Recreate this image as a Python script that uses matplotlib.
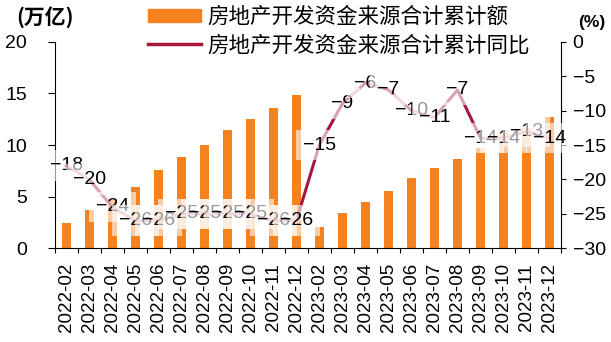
import numpy as np
import matplotlib
matplotlib.use('Agg')
import matplotlib.pyplot as plt
from matplotlib.patches import Patch
from matplotlib.lines import Line2D

plt.rcParams['font.family'] = ['Liberation Sans', 'Noto Sans CJK SC']
plt.rcParams['axes.unicode_minus'] = True

months = ['2022-02', '2022-03', '2022-04', '2022-05', '2022-06', '2022-07',
          '2022-08', '2022-09', '2022-10', '2022-11', '2022-12',
          '2023-02', '2023-03', '2023-04', '2023-05', '2023-06', '2023-07',
          '2023-08', '2023-09', '2023-10', '2023-11', '2023-12']
# 房地产开发资金来源合计累计额（万亿）
funds = [2.48, 3.71, 4.74, 5.97, 7.58, 8.84, 10.03, 11.45, 12.52, 13.60, 14.84,
         2.03, 3.39, 4.45, 5.58, 6.81, 7.77, 8.64, 9.74, 11.45, 11.62, 12.74]
# 累计同比（%）
yoy = [-18, -20, -24, -26, -26, -25, -25, -25, -25, -26, -26,
       -15, -9, -6, -7, -10, -11, -7, -14, -14, -13, -14]

ORANGE = '#F5821F'
RED = '#A5183C'

fig = plt.figure(figsize=(6.11, 3.42), dpi=100)
ax = fig.add_axes([0.0895, 0.274, 0.8287, 0.604])

x = np.arange(len(months))
ax.bar(x, funds, width=0.4, color=ORANGE, zorder=2)
ax.set_xlim(-0.5, len(months) - 0.5)
ax.set_ylim(0, 20)
ax.set_yticks(range(0, 21, 5))
ax.set_xticks(x)
ax.set_xticklabels(months, rotation=90)
ax.set_xticks(np.arange(-0.5, len(months)), minor=True)
ax.tick_params(axis='x', which='major', length=0, pad=10.5, labelsize=13.5)
ax.tick_params(axis='x', which='minor', length=3.6, width=0.8)
ax.tick_params(axis='y', length=5, width=0.8, pad=15, labelsize=14)
for s in ['top', 'right']:
    ax.spines[s].set_visible(False)
for s in ['left', 'bottom']:
    ax.spines[s].set_linewidth(0.8)

ax2 = ax.twinx()
ax2.plot(x, yoy, color=RED, lw=2.2)
ax2.set_ylim(-30, 0)
ax2.set_yticks(range(-30, 1, 5))
ax2.tick_params(axis='y', length=3.3, width=0.8, pad=5, labelsize=14)
for s in ['top', 'left', 'bottom']:
    ax2.spines[s].set_visible(False)
ax2.spines['right'].set_linewidth(0.8)

# 同比数据标签，白色半透明底框
for xi, v in zip(x, yoy):
    ax2.text(xi, v, str(v).replace('-', '\u2212'), ha='center', va='center',
             fontsize=14,
             bbox=dict(boxstyle='square,pad=0.35', fc='white', ec='none', alpha=0.6))

handles = [Patch(color=ORANGE), Line2D([], [], color=RED, lw=2.5)]
labels = ['房地产开发资金来源合计累计额', '房地产开发资金来源合计累计同比']
fig.legend(handles, labels, loc='upper left', bbox_to_anchor=(0.242, 0.982),
           frameon=False, prop={'family': ['Noto Sans CJK SC'], 'size': 15.5},
           handlelength=2.46, handleheight=0.5, handletextpad=0.3,
           labelspacing=0.28, borderpad=0, borderaxespad=0)

fig.text(16 / 611, 1 - 17 / 342, '(万亿)', fontsize=15, fontweight='bold',
         ha='left', va='center', family=['Noto Sans CJK SC'])
fig.text(578 / 611, 1 - 22 / 342, '(%)', fontsize=12.5, fontweight='bold',
         ha='left', va='center')

fig.savefig('out.png', dpi=100)
